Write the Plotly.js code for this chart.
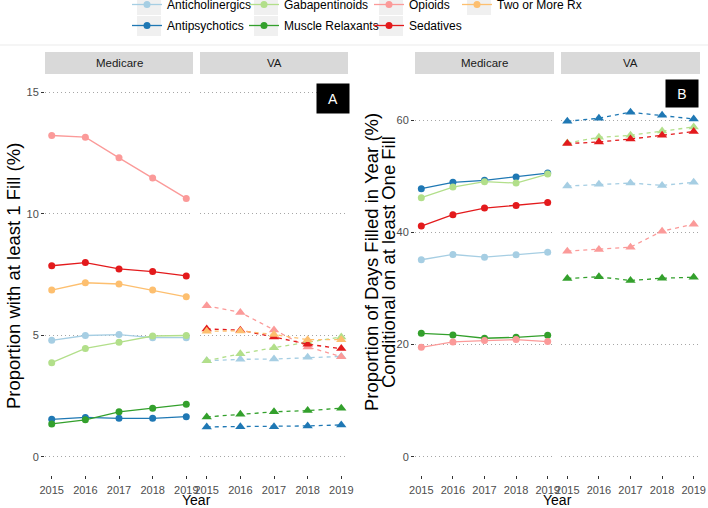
<!DOCTYPE html>
<html>
<head>
<meta charset="utf-8">
<script src="https://cdn.plot.ly/plotly-3.0.1.min.js"></script>
<style>
  html, body { margin: 0; padding: 0; background: #ffffff; }
  #chart { width: 708px; height: 508px; }
</style>
</head>
<body>
<div id="chart"></div>
<script>
const years = [2015, 2016, 2017, 2018, 2019];
const drugClasses = ["Anticholinergics", "Antipsychotics", "Gabapentinoids", "Muscle Relaxants", "Opioids", "Sedatives", "Two or More Rx"];
const classColors = ["#A6CEE3", "#1F78B4", "#B2DF8A", "#33A02C", "#FB9A99", "#E31A1C", "#FDBF6F"];

// panel A: proportion with at least 1 fill (%), rows follow drugClasses
const fillMedicare = [
  [4.79, 4.99, 5.03, 4.90, 4.90],
  [1.54, 1.62, 1.58, 1.58, 1.65],
  [3.87, 4.46, 4.71, 4.97, 4.99],
  [1.35, 1.52, 1.85, 2.00, 2.16],
  [13.22, 13.15, 12.30, 11.47, 10.63],
  [7.86, 7.99, 7.73, 7.62, 7.44],
  [6.86, 7.16, 7.11, 6.86, 6.58]
];
const fillVA = [
  [3.95, 4.01, 4.02, 4.09, 4.13],
  [1.23, 1.24, 1.24, 1.27, 1.31],
  [3.95, 4.24, 4.49, 4.71, 4.93],
  [1.64, 1.75, 1.85, 1.90, 2.00],
  [6.21, 5.94, 5.22, 4.52, 4.12],
  [5.26, 5.21, 4.93, 4.63, 4.45],
  [5.17, 5.18, 5.03, 4.82, 4.82]
];

// panel B: proportion of days filled, conditional on one fill (%)
const daysMedicare = [
  [35.13, 36.07, 35.59, 36.02, 36.48],
  [47.80, 48.93, 49.29, 49.88, 50.59],
  [46.20, 48.09, 49.05, 48.80, 50.41],
  [22.02, 21.73, 21.13, 21.30, 21.66],
  [19.52, 20.48, 20.71, 20.89, 20.54],
  [41.13, 43.16, 44.34, 44.82, 45.36],
  null
];
const daysVA = [
  [48.27, 48.57, 48.80, 48.39, 48.93],
  [59.82, 60.36, 61.43, 60.89, 60.23],
  [55.95, 56.96, 57.32, 58.09, 58.80],
  [31.79, 32.09, 31.43, 31.84, 32.02],
  [36.66, 36.96, 37.38, 40.23, 41.48],
  [55.84, 56.13, 56.66, 57.32, 57.98],
  null
];

const legendIds = ["legend", "legend", "legend2", "legend2", "legend3", "legend3", "legend4"];

const W = 708, H = 508;
const px = x => x / W;
const py = y => (H - y) / H;
const FONT = "Liberation Sans, Arial, sans-serif";

const traces = [];
function addSeries(values, xa, ya, isVA, showLegend) {
  values.forEach((vals, i) => {
    if (!vals) return;
    traces.push({
      x: years,
      y: vals,
      xaxis: xa,
      yaxis: ya,
      type: "scatter",
      mode: "lines+markers",
      name: drugClasses[i],
      legendgroup: drugClasses[i],
      legend: legendIds[i],
      showlegend: showLegend,
      line: { color: classColors[i], width: 1.3, dash: isVA ? "4px,4px" : "solid" },
      marker: { color: classColors[i], size: isVA ? 9 : 7, symbol: isVA ? "triangle-up" : "circle" },
      hoverinfo: "x+y+name"
    });
  });
}
addSeries(fillMedicare, "x", "y", false, true);
addSeries(fillVA, "x2", "y", true, false);
addSeries(daysMedicare, "x3", "y2", false, false);
addSeries(daysVA, "x4", "y2", true, false);

const xBase = {
  range: [2014.8, 2019.2],
  tickvals: years,
  ticks: "outside",
  ticklen: 3,
  tickcolor: "#333333",
  ticklabelstandoff: 2,
  tickfont: { family: FONT, size: 11, color: "#4d4d4d" },
  showgrid: false,
  zeroline: false,
  showline: false,
  fixedrange: true
};
const yBase = {
  ticks: "outside",
  ticklen: 3,
  tickcolor: "#333333",
  tickfont: { family: FONT, size: 11, color: "#4d4d4d" },
  showgrid: true,
  gridcolor: "#a6a6a6",
  griddash: "1px,3px",
  gridwidth: 1,
  zeroline: false,
  showline: false,
  fixedrange: true,
  domain: [py(475), py(74)]
};

// facet strips
const strips = [
  { x0: 45, x1: 193, label: "Medicare" },
  { x0: 200, x1: 348, label: "VA" },
  { x0: 415, x1: 554, label: "Medicare" },
  { x0: 561, x1: 700, label: "VA" }
];
const shapes = strips.map(s => ({
  type: "rect", xref: "paper", yref: "paper",
  x0: px(s.x0), x1: px(s.x1), y0: py(74), y1: py(52),
  fillcolor: "#d9d9d9", line: { width: 0 }, layer: "below"
}));
shapes.push({
  type: "line", xref: "paper", yref: "paper",
  x0: 0, x1: 1, y0: py(45), y1: py(45),
  line: { color: "#ebebeb", width: 1 }
});

// legend key backgrounds
const legendX = [127, 244, 369, 457];
const keyRows = [5, 26];
drugClasses.forEach((d, i) => {
  const cx = legendX[Math.floor(i / 2)] + 22;
  const cy = keyRows[i % 2];
  shapes.push({
    type: "rect", xref: "paper", yref: "paper",
    x0: px(cx - 12), x1: px(cx + 12), y0: py(cy + 10), y1: py(cy - 10),
    fillcolor: "#f0f0f0", line: { width: 0 }, layer: "below"
  });
});

const annotations = strips.map(s => ({
  xref: "paper", yref: "paper",
  x: px((s.x0 + s.x1) / 2), y: py(63),
  text: s.label, showarrow: false,
  xanchor: "center", yanchor: "middle",
  font: { family: FONT, size: 11.5, color: "#1a1a1a" }
}));

const xTitleFont = { family: FONT, size: 14, color: "#000000" };
const yTitleFont = { family: FONT, size: 18.5, color: "#000000" };
annotations.push(
  { xref: "paper", yref: "paper", x: px(196), y: py(500), text: "Year", showarrow: false,
    xanchor: "center", yanchor: "middle", font: xTitleFont },
  { xref: "paper", yref: "paper", x: px(557), y: py(500), text: "Year", showarrow: false,
    xanchor: "center", yanchor: "middle", font: xTitleFont },
  { xref: "paper", yref: "paper", x: px(14), y: py(276), text: "Proportion with at least 1 Fill (%)",
    textangle: -90, showarrow: false, xanchor: "center", yanchor: "middle", font: yTitleFont },
  { xref: "paper", yref: "paper", x: px(371), y: py(262), text: "Proportion of Days Filled in Year (%)",
    textangle: -90, showarrow: false, xanchor: "center", yanchor: "middle", font: yTitleFont },
  { xref: "paper", yref: "paper", x: px(388), y: py(262), text: "Conditional on at least One Fill",
    textangle: -90, showarrow: false, xanchor: "center", yanchor: "middle", font: yTitleFont },
  { xref: "paper", yref: "paper", x: px(333), y: py(98), text: "A", showarrow: false,
    xanchor: "center", yanchor: "middle", width: 24, height: 21, bgcolor: "#000000", borderpad: 4,
    font: { family: FONT, size: 14, color: "#ffffff" } },
  { xref: "paper", yref: "paper", x: px(682), y: py(93), text: "B", showarrow: false,
    xanchor: "center", yanchor: "middle", width: 24, height: 19, bgcolor: "#000000", borderpad: 4,
    font: { family: FONT, size: 14, color: "#ffffff" } }
);

// legend columns, partly above the top edge as in the reference
function legendAt(i) {
  return {
    orientation: "v",
    x: px(legendX[i]), xanchor: "left",
    y: 1 + 10 / H, yanchor: "top",
    bgcolor: "rgba(0,0,0,0)",
    borderwidth: 0,
    tracegroupgap: 2,
    font: { family: FONT, size: 12, color: "#000000" }
  };
}

const layout = {
  width: W,
  height: H,
  margin: { l: 0, r: 0, t: 0, b: 0, autoexpand: false },
  paper_bgcolor: "#ffffff",
  plot_bgcolor: "#ffffff",
  showlegend: true,
  legend: legendAt(0),
  legend2: legendAt(1),
  legend3: legendAt(2),
  legend4: legendAt(3),
  xaxis: Object.assign({}, xBase, { domain: [px(45), px(193)], anchor: "y" }),
  xaxis2: Object.assign({}, xBase, { domain: [px(200), px(348)], anchor: "y" }),
  xaxis3: Object.assign({}, xBase, { domain: [px(415), px(554)], anchor: "y2" }),
  xaxis4: Object.assign({}, xBase, { domain: [px(561), px(700)], anchor: "y2" }),
  yaxis: Object.assign({}, yBase, { range: [-0.75, 15.75], tickvals: [0, 5, 10, 15], anchor: "x" }),
  yaxis2: Object.assign({}, yBase, { range: [-3.25, 68.25], tickvals: [0, 20, 40, 60], anchor: "x3" }),
  shapes: shapes,
  annotations: annotations
};

Plotly.newPlot("chart", traces, layout, { displayModeBar: false, staticPlot: true });
</script>
</body>
</html>
